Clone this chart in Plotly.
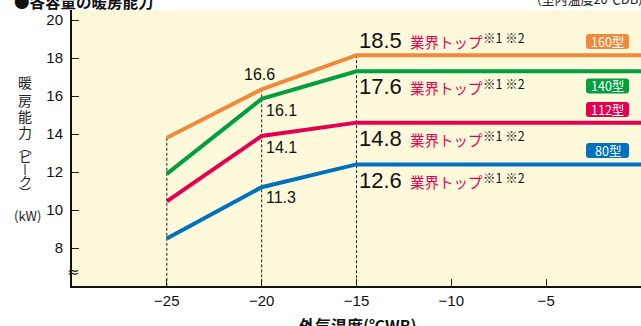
import plotly.graph_objects as go

# ---------------- data ----------------
temps = [-25, -20, -15, 0]                       # outdoor temperature (°C WB)
models = ["160型", "140型", "112型", "80型"]
cap_160 = [13.8, 16.35, 18.15, 18.15]            # heating capacity (kW)
cap_140 = [11.9, 15.85, 17.3, 17.3]
cap_112 = [10.45, 13.9, 14.6, 14.6]
cap_80 = [8.5, 11.2, 12.4, 12.4]
labels_m20 = ["16.6", "16.1", "14.1", "11.3"]    # labels at -20°C
labels_m15 = ["18.5", "17.6", "14.8", "12.6"]    # labels at -15°C
x_tickvals = [-25, -20, -15, -10, -5]
x_ticktext = ["−25", "−20", "−15", "−10", "−5"]
y_tickvals = [8, 10, 12, 14, 16, 18, 20]

series = [cap_160, cap_140, cap_112, cap_80]

# ---------------- style / layout ----------------
W, H = 641, 326
L, R, T, B = 72, 0, 10, 40
X_RANGE = [-30, 0]
Y_RANGE = [6.0, 20.53]
colors = ["#EF8A3B", "#00A040", "#E5004F", "#0071BC"]
NUM_FONT = "Liberation Sans, Arial, Noto Sans CJK JP, sans-serif"
JP_FONT = "Noto Sans CJK JP, Liberation Sans, sans-serif"


def px_x(px):
    return (px - L) / (W - L - R)


def px_y(py):
    return (H - B - py) / (H - T - B)


fig = go.Figure()

# dotted guide lines from the top curve down to the x axis
for i in range(3):
    fig.add_trace(go.Scatter(
        x=[temps[i], temps[i]], y=[cap_160[i], Y_RANGE[0]],
        mode="lines", line=dict(color="#222222", width=1, dash="3px,2px"),
        hoverinfo="skip", showlegend=False))

for vals, col, name in zip(series, colors, models):
    fig.add_trace(go.Scatter(
        x=temps, y=vals, mode="lines", name=name,
        line=dict(color=col, width=4), showlegend=False, cliponaxis=False))

annotations = []
shapes = []

# labels at -20
m20_shift = [(-2.5, 14.5, "center"), (2.5, -12, "left"), (2.5, -12, "left"), (2.5, -10.5, "left")]
for vals, txt, (dx, dy, anc) in zip(series, labels_m20, m20_shift):
    annotations.append(dict(x=temps[1], y=vals[1], xref="x", yref="y", text=txt,
                            showarrow=False, xanchor=anc, yanchor="middle",
                            xshift=dx, yshift=dy,
                            font=dict(family=NUM_FONT, size=16, color="#111111")))

# labels at -15 : big number + 業界トップ + ※1 ※2
m15_dy = [15, -15.6, -16, -16.5]
for vals, txt, dy in zip(series, labels_m15, m15_dy):
    annotations.append(dict(x=temps[2], y=vals[2], xref="x", yref="y", text=txt,
                            showarrow=False, xanchor="left", yanchor="middle",
                            xshift=0, yshift=dy,
                            font=dict(family=NUM_FONT, size=22, color="#111111")))
    annotations.append(dict(x=temps[2], y=vals[2], xref="x", yref="y", text="業界トップ",
                            showarrow=False, xanchor="left", yanchor="middle",
                            xshift=51, yshift=dy - 1,
                            font=dict(family=JP_FONT, size=14.5, color="#E5004F")))
    annotations.append(dict(x=temps[2], y=vals[2], xref="x", yref="y", text="※1 ※2",
                            showarrow=False, xanchor="left", yanchor="middle",
                            xshift=124, yshift=dy + 3,
                            font=dict(family=JP_FONT, size=12.5, color="#111111")))

# model badges (rounded rectangles) at the right end
badge_dy = [13.7, -14.6, 13.2, 14.0]
bx0, bx1, bh, rr = -55, -12, 15, 3
for vals, col, name, dy in zip(series, colors, models, badge_dy):
    y0, y1 = dy - bh / 2, dy + bh / 2
    path = (f"M{bx0 + rr},{y0} L{bx1 - rr},{y0} Q{bx1},{y0} {bx1},{y0 + rr} "
            f"L{bx1},{y1 - rr} Q{bx1},{y1} {bx1 - rr},{y1} L{bx0 + rr},{y1} "
            f"Q{bx0},{y1} {bx0},{y1 - rr} L{bx0},{y0 + rr} Q{bx0},{y0} {bx0 + rr},{y0} Z")
    shapes.append(dict(type="path", xref="x", yref="y", xsizemode="pixel", ysizemode="pixel",
                       xanchor=temps[-1], yanchor=vals[-1], path=path,
                       fillcolor=col, line=dict(width=0), layer="above"))
    annotations.append(dict(x=temps[-1], y=vals[-1], xref="x", yref="y", text=name,
                            showarrow=False, xanchor="center", yanchor="middle",
                            xshift=(bx0 + bx1) / 2, yshift=dy,
                            font=dict(family=JP_FONT, size=12.5, color="white")))

# y-axis title written vertically
vchars = [("暖", 82, 14), ("房", 100, 14), ("能", 116, 14), ("力", 132, 14), ("︵", 146, 12),
          ("ピ", 156, 13), ("丨", 168, 12), ("ク", 180, 13), ("︶", 192, 12)]
for ch, py, fs in vchars:
    annotations.append(dict(x=px_x(25), y=px_y(py), xref="paper", yref="paper", text=ch,
                            showarrow=False, xanchor="center", yanchor="middle",
                            font=dict(family=JP_FONT, size=fs, color="#222222")))
annotations.append(dict(x=px_x(27), y=px_y(215.5), xref="paper", yref="paper", text="(kW)",
                        showarrow=False, xanchor="center", yanchor="middle",
                        font=dict(family=JP_FONT, size=13, color="#222222")))

# axis break mark
annotations.append(dict(x=px_x(73), y=px_y(272), xref="paper", yref="paper", text="≈",
                        showarrow=False, xanchor="center", yanchor="middle",
                        font=dict(family="DejaVu Sans", size=15, color="#222222")))

# x-axis title (partly cut by the bottom edge)
annotations.append(dict(x=px_x(358), y=px_y(325), xref="paper", yref="paper",
                        text="<b>外気温度(℃WB)</b>", showarrow=False,
                        xanchor="center", yanchor="middle",
                        font=dict(family=JP_FONT, size=16, color="#111111")))

# top titles (partly cut by the top edge)
annotations.append(dict(x=px_x(12), y=px_y(0.8), xref="paper", yref="paper",
                        text="<b>●各容量の暖房能力</b>", showarrow=False,
                        xanchor="left", yanchor="middle",
                        font=dict(family=JP_FONT, size=15.5, color="#111111")))
annotations.append(dict(x=px_x(645), y=px_y(-2), xref="paper", yref="paper",
                        text="(室内温度20℃DB)", showarrow=False,
                        xanchor="right", yanchor="middle",
                        font=dict(family=JP_FONT, size=13, color="#222222")))

fig.update_layout(
    width=W, height=H,
    margin=dict(l=L, r=R, t=T, b=B, pad=0),
    paper_bgcolor="white", plot_bgcolor="#FFF9DB",
    showlegend=False,
    annotations=annotations, shapes=shapes,
    xaxis=dict(range=X_RANGE, tickvals=x_tickvals, ticktext=x_ticktext,
               ticks="inside", ticklen=7, tickwidth=1, tickcolor="#222222",
               showgrid=False, zeroline=False, showline=True, linecolor="#111111", linewidth=2,
               tickfont=dict(family=NUM_FONT, size=15, color="#111111"),
               fixedrange=True),
    yaxis=dict(range=Y_RANGE, tickvals=y_tickvals,
               ticks="inside", ticklen=7, tickwidth=1, tickcolor="#222222",
               showgrid=False, zeroline=False, showline=True, linecolor="#111111", linewidth=2,
               tickfont=dict(family=NUM_FONT, size=15, color="#111111"),
               ticklabelstandoff=4, fixedrange=True),
)

fig.write_html(
    "out.html",
    config={"displayModeBar": False},
    post_script="document.body.style.margin='0';document.body.style.overflow='hidden';",
)
